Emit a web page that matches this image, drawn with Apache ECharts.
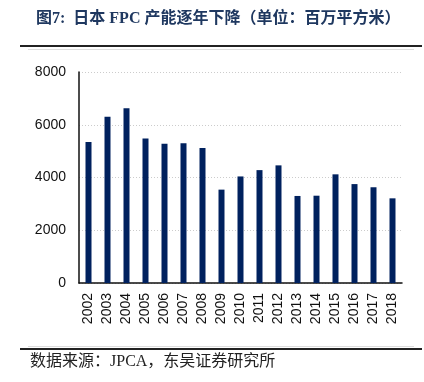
<!DOCTYPE html>
<html><head><meta charset="utf-8">
<script src="https://cdn.jsdelivr.net/npm/echarts@6/dist/echarts.min.js"></script>
<style>html,body{margin:0;padding:0;background:#fff}#c{width:424px;height:382px}</style>
</head><body><div id="c"></div>
<script>
const categories = ['2002','2003','2004','2005','2006','2007','2008','2009','2010','2011','2012','2013','2014','2015','2016','2017','2018'];
const values = [5350, 6300, 6630, 5480, 5280, 5300, 5120, 3540, 4040, 4280, 4460, 3300, 3310, 4120, 3750, 3630, 3210];
const yTicks = [0, 2000, 4000, 6000, 8000];

const chart = echarts.init(document.getElementById('c'));
chart.setOption({
  animation: false,
  title: {
    text: '图7:  日本 FPC 产能逐年下降（单位：百万平方米）',
    left: 31, top: 6,
    textStyle: { fontFamily: '"Liberation Serif","Noto Sans CJK SC"', fontSize: 16, fontWeight: 'bold', color: '#1f3860' }
  },
  graphic: [
    { type: 'line', shape: { x1: 20, y1: 46, x2: 422, y2: 46 }, style: { stroke: '#222', lineWidth: 2 } },
    { type: 'line', shape: { x1: 28, y1: 49.5, x2: 414, y2: 49.5 }, style: { stroke: '#ddd', lineWidth: 1 } },
    { type: 'line', shape: { x1: 20, y1: 349, x2: 422, y2: 349 }, style: { stroke: '#222', lineWidth: 2 } },
    { type: 'line', shape: { x1: 28, y1: 346.5, x2: 414, y2: 346.5 }, style: { stroke: '#ddd', lineWidth: 1 } },
    { type: 'text', left: 30, top: 354, style: { text: '数据来源：JPCA，东吴证券研究所', font: '16px "Liberation Serif","Noto Sans CJK SC"', fill: '#222' } }
  ],
  grid: { left: 79, right: 22, top: 72, bottom: 99, containLabel: false },
  xAxis: {
    type: 'category', data: categories,
    axisLine: { lineStyle: { color: '#111', width: 1.5 } },
    axisTick: { show: false },
    axisLabel: { rotate: 90, interval: 0, margin: 10, color: '#111', fontSize: 14, fontFamily: 'Liberation Sans' }
  },
  yAxis: {
    type: 'value', min: 0, max: 8000, interval: 2000,
    axisLine: { show: true, lineStyle: { color: '#111', width: 1.5 } },
    axisTick: { show: false },
    axisLabel: { margin: 13, color: '#111', fontSize: 14, fontFamily: 'Liberation Sans', formatter: v => String(v) },
    splitLine: { lineStyle: { color: '#ccc', type: [1, 2] } }
  },
  series: [{
    type: 'bar', data: values, barWidth: 6,
    itemStyle: { color: '#00215e' }
  }]
});
</script></body></html>
